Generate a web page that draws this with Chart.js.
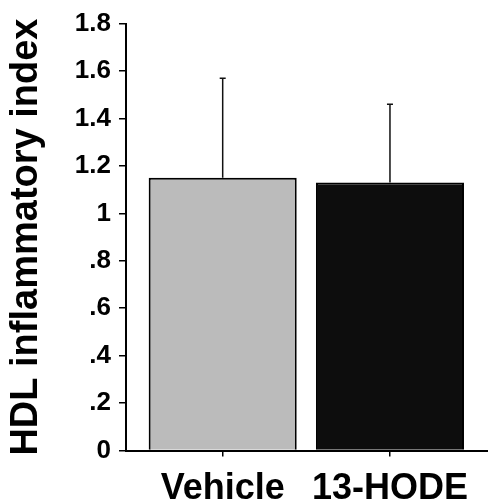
<!DOCTYPE html>
<html>
<head>
<meta charset="utf-8">
<script src="https://cdn.jsdelivr.net/npm/chart.js@4"></script>
<style>
  html, body { margin: 0; padding: 0; background: #fff; }
  #wrap { width: 488px; height: 502px; }
</style>
</head>
<body>
<div id="wrap"><canvas id="hdlChart"></canvas></div>
<script>
// HDL inflammatory index, mean + SD
const categories = ['Vehicle', '13-HODE'];
const means = [1.15, 1.13];
const errors = [0.42, 0.33];
const yTickLabels = ['0', '.2', '.4', '.6', '.8', '1', '1.2', '1.4', '1.6', '1.8'];

const fontFamily = '"Liberation Sans", Arial, Helvetica, sans-serif';

// upper error bars with a small cap
const errorBars = {
    id: 'errorBars',
    afterDatasetsDraw(chart) {
        const ctx = chart.ctx;
        const yScale = chart.scales.y;
        chart.getDatasetMeta(0).data.forEach((bar, i) => {
            const top = yScale.getPixelForValue(means[i] + errors[i]);
            ctx.save();
            ctx.strokeStyle = '#111';
            ctx.lineWidth = 1.5;
            ctx.beginPath();
            ctx.moveTo(bar.x, bar.y);
            ctx.lineTo(bar.x, top);
            ctx.moveTo(bar.x - 3, top);
            ctx.lineTo(bar.x + 3, top);
            ctx.stroke();
            ctx.restore();
        });
    }
};

const ctx = document.getElementById('hdlChart').getContext('2d');
const hdlChart = new Chart(ctx, {
    type: 'bar',
    data: {
        datasets: [{
            data: categories.map((c, i) => ({ x: i, y: means[i] })),
            backgroundColor: ['#bbbbbb', '#0d0d0d'],
            borderColor: '#000',
            borderWidth: 2,
            categoryPercentage: 1.0,
            barPercentage: 0.885
        }]
    },
    options: {
        responsive: true,
        maintainAspectRatio: false,
        animation: false,
        layout: { padding: { top: 6, right: 0, left: 0, bottom: 0 } },
        plugins: {
            legend: { display: false },
            tooltip: { enabled: false }
        },
        scales: {
            x: {
                type: 'linear',
                offset: false,
                min: -0.578,
                max: 1.586,
                afterBuildTicks: scale => {
                    scale.ticks = categories.map((c, i) => ({ value: i }));
                },
                afterFit: scale => { scale.height = 51.5; },
                grid: {
                    offset: false,
                    drawOnChartArea: false,
                    tickLength: 6,
                    color: '#000',
                    lineWidth: 1.5
                },
                border: { color: '#000', width: 2 },
                ticks: {
                    padding: 11,
                    color: '#000',
                    maxRotation: 0,
                    font: { family: fontFamily, size: 36, weight: 'bold' },
                    callback: v => categories[v]
                }
            },
            y: {
                min: 0,
                max: 1.8,
                afterBuildTicks: scale => {
                    scale.ticks = yTickLabels.map(s => ({ value: parseFloat(s) }));
                },
                afterFit: scale => { scale.width = 126; },
                grid: {
                    drawOnChartArea: false,
                    tickLength: 7,
                    color: '#000',
                    lineWidth: 1.5
                },
                border: { color: '#000', width: 2 },
                ticks: {
                    padding: 8,
                    color: '#000',
                    font: { family: fontFamily, size: 26, weight: 'bold' },
                    callback: (v, i) => yTickLabels[i]
                },
                title: {
                    display: true,
                    text: 'HDL inflammatory index',
                    color: '#000',
                    font: { family: fontFamily, size: 38, weight: 'bold' },
                    padding: { top: 4, bottom: 4 }
                }
            }
        }
    },
    plugins: [errorBars]
});
</script>
</body>
</html>
